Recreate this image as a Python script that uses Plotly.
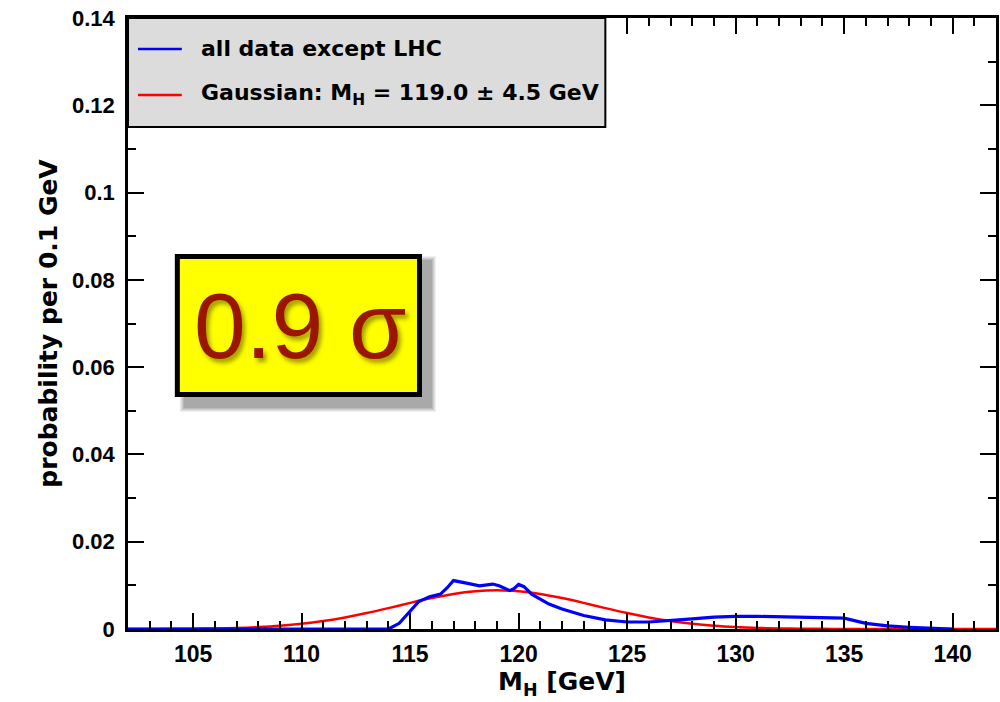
import plotly.graph_objects as go

# Higgs-mass probability density, all data except LHC
mh_blue = [102.0, 114.0, 114.5, 115.0, 115.4, 115.9, 116.4, 116.7, 117.0, 117.6,
           118.2, 118.8, 119.1, 119.6, 119.8, 120.0, 120.25, 120.6, 121.0, 121.4,
           122.0, 123.0, 124.0, 125.0, 126.0, 127.0, 128.0, 129.0, 130.0, 131.0,
           132.0, 133.0, 134.0, 135.0, 136.0, 137.0, 138.0, 139.0, 140.0]
prob_blue = [0.0, 0.0, 0.0013, 0.0040, 0.0063, 0.0074, 0.0080, 0.0094, 0.0111, 0.0105,
             0.0099, 0.0103, 0.0099, 0.0088, 0.0093, 0.0102, 0.0097, 0.0080, 0.0068, 0.0057,
             0.0046, 0.0031, 0.0021, 0.0016, 0.0016, 0.0019, 0.0023, 0.0027, 0.0029, 0.0029,
             0.0028, 0.0027, 0.0026, 0.0025, 0.0013, 0.0007, 0.0004, 0.0002, 0.0]

# Gaussian approximation, M_H = 119.0 +- 4.5 GeV
mh_red = [102, 103, 104, 105, 106, 107, 108, 109, 110, 111, 112, 113, 114, 115,
          116, 117, 118, 119, 120, 121, 122, 123, 124, 125, 126, 127, 128, 129,
          130, 131, 132, 133, 134, 135, 136, 137, 138, 139, 140, 141, 142]
prob_red = [0.00001, 0.00002, 0.00003, 0.00007, 0.00014, 0.00025, 0.00045, 0.00075,
            0.00120, 0.00183, 0.00265, 0.00365, 0.00478, 0.00598, 0.00710, 0.00804,
            0.00865, 0.00887, 0.00865, 0.00804, 0.00710, 0.00598, 0.00478, 0.00365,
            0.00265, 0.00183, 0.00120, 0.00075, 0.00045, 0.00025, 0.00014, 0.00007,
            0.00003, 0.00002, 0.00001, 0.0, 0.0, 0.0, 0.0, 0.0, 0.0]

x_ticks = [105, 110, 115, 120, 125, 130, 135, 140]
y_ticks = [0, 0.02, 0.04, 0.06, 0.08, 0.1, 0.12, 0.14]
y_tick_text = ["0", "0.02", "0.04", "0.06", "0.08", "0.1", "0.12", "0.14"]

legend_labels = ["all data except LHC", "Gaussian: M<sub>H</sub> = 119.0 \u00b1 4.5 GeV"]
pull_label = "0.9 \u03c3"

W, H = 1000, 702
L, R, T, B = 128, 1, 18, 73
PW, PH = W - L - R, H - T - B


def px(xp):
    return (xp - L) / PW


def py(yp):
    return (H - B - yp) / PH


fig = go.Figure()
fig.add_trace(go.Scatter(x=mh_red, y=prob_red, mode="lines", line_shape="spline",
                         line=dict(color="#ff0000", width=2.5), showlegend=False))
fig.add_trace(go.Scatter(x=mh_blue, y=prob_blue, mode="lines",
                         line=dict(color="#0000ff", width=3.2), showlegend=False))

x_tick_font = dict(family="Liberation Sans, Arial", size=23, color="black", weight="bold")
y_tick_font = dict(family="Liberation Sans, Arial", size=22, color="black", weight="bold")
title_font = dict(family="DejaVu Sans", size=25, color="black", weight="bold")

axis_common = dict(showline=True, linecolor="black", linewidth=2.5, mirror="allticks",
                   ticks="inside", ticklen=16, tickwidth=2, tickcolor="black",
                   showgrid=False, zeroline=False)

fig.update_xaxes(range=[102, 142], tickvals=x_ticks, ticktext=[str(v) for v in x_ticks],
                 minor=dict(dtick=1, tick0=0, ticks="inside", ticklen=8, tickwidth=2,
                            tickcolor="black", showgrid=False),
                 title=dict(text="M<sub>H</sub> [GeV]", font=title_font, standoff=2),
                 tickfont=x_tick_font, ticklabelstandoff=3, **axis_common)
fig.update_yaxes(range=[0, 0.14], tickvals=y_ticks, ticktext=y_tick_text,
                 minor=dict(dtick=0.01, tick0=0, ticks="inside", ticklen=8, tickwidth=2,
                            tickcolor="black", showgrid=False),
                 title=dict(text="probability per 0.1 GeV", font=title_font, standoff=8),
                 tickfont=y_tick_font, ticklabelstandoff=6, **axis_common)

shapes = []
# legend panel
shapes.append(dict(type="rect", xref="paper", yref="paper", layer="above",
                   x0=px(128), x1=px(607), y0=py(127), y1=py(18),
                   fillcolor="#dcdcdc", line=dict(color="black", width=2)))
for yy, col in [(49, "#0000ff"), (95, "#ff0000")]:
    shapes.append(dict(type="line", xref="paper", yref="paper", layer="above",
                       x0=px(138), x1=px(182), y0=py(yy), y1=py(yy),
                       line=dict(color=col, width=2.5)))

# soft drop shadow behind the highlighted box
for i, op in enumerate([0.08, 0.09, 0.10, 0.12, 0.14]):
    g = 6 - i
    shapes.append(dict(type="rect", xref="paper", yref="paper", layer="above",
                       x0=px(180 + 6 - g), x1=px(423 + 8 + g),
                       y0=py(397 + 9 + g), y1=py(254 + 8 - g),
                       fillcolor=f"rgba(60,60,60,{op})", line=dict(width=0)))
# highlighted box
shapes.append(dict(type="rect", xref="paper", yref="paper", layer="above",
                   x0=px(177.5), x1=px(420.5), y0=py(394.5), y1=py(256.5),
                   fillcolor="#ffff00", line=dict(color="black", width=5)))

annotations = []
for txt, yy in zip(legend_labels, [48, 94]):
    annotations.append(dict(text=txt, xref="paper", yref="paper", x=px(199), y=py(yy),
                            xanchor="left", yanchor="middle", showarrow=False,
                            font=dict(family="DejaVu Sans", size=22, color="black",
                                      weight="bold")))
annotations.append(dict(text=pull_label, xref="paper", yref="paper", x=px(301), y=py(326),
                        xanchor="center", yanchor="middle", showarrow=False,
                        font=dict(family="Liberation Sans, Arial", size=93, color="#9a1600",
                                  shadow="3px 4px 4px rgba(90,80,0,0.55)")))

fig.update_layout(width=W, height=H, margin=dict(l=L, r=R, t=T, b=B),
                  paper_bgcolor="white", plot_bgcolor="white",
                  shapes=shapes, annotations=annotations, showlegend=False)

fig.write_html("out.html")
